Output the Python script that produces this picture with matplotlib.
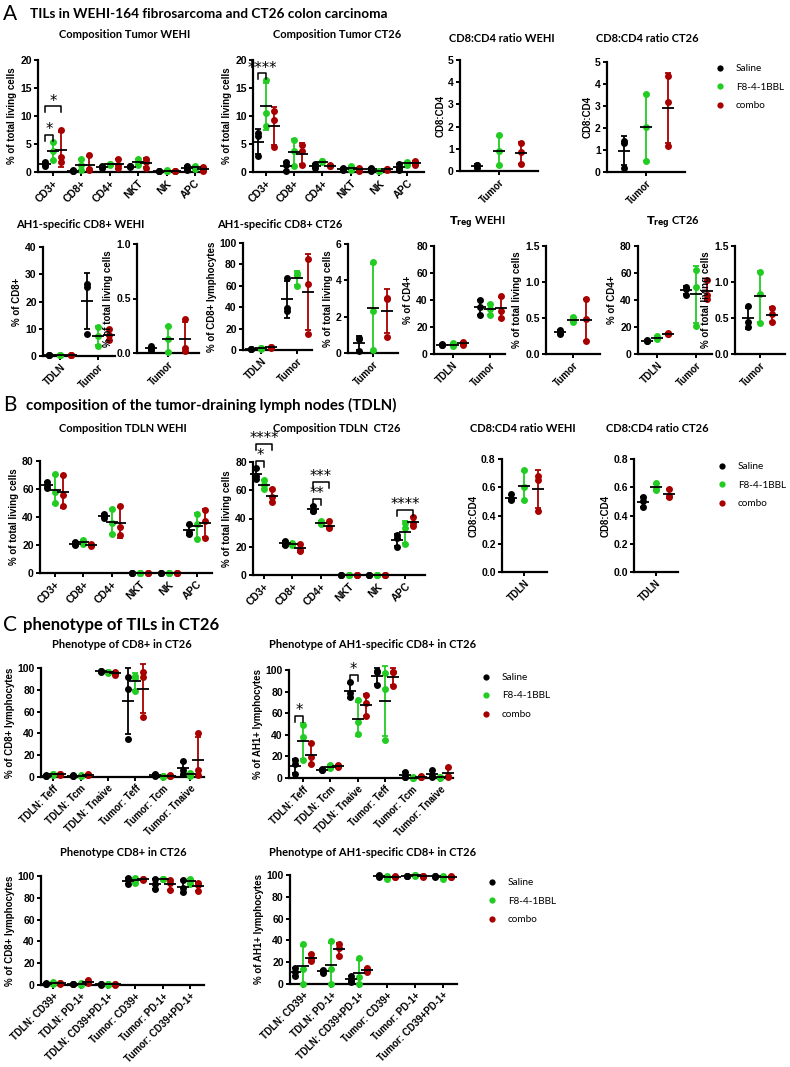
import numpy as np
import matplotlib
matplotlib.use("Agg")
import matplotlib.pyplot as plt
from matplotlib.lines import Line2D

W, H = 790, 1067
COLORS = ["#000000", "#22cc22", "#a80000"]
TREATMENTS = ["Saline", "F8-4-1BBL", "combo"]

# ---------------- DATA ----------------
comp_cats = ["CD3+", "CD8+", "CD4+", "NKT", "NK", "APC"]

# A: Composition Tumor WEHI
tw_saline = [[1.0, 1.4, 1.7], [0.2, 0.3, 0.2], [0.7, 0.9, 1.0], [0.9, 1.0, 1.0], [0.1, 0.1, 0.15], [0.4, 0.8, 1.0]]
tw_f8 = [[2.2, 3.8, 5.4], [0.3, 1.3, 2.3], [1.3, 1.4, 1.5], [1.3, 1.7, 2.3], [0.2, 0.2, 0.3], [0.6, 0.9, 1.0]]
tw_combo = [[1.7, 2.7, 7.5], [0.3, 0.6, 3.0], [0.7, 1.2, 2.4], [0.8, 1.8, 2.4], [0.1, 0.15, 0.2], [0.2, 0.5, 0.9]]
tw_sig = [(0, 0, 1, "*", 0), (0, 0, 2, "*", 1)]

# A: Composition Tumor CT26
tc_saline = [[2.8, 6.4, 6.9], [0.2, 1.2, 1.8], [0.8, 1.1, 1.4], [0.4, 0.6, 0.7], [0.2, 0.5, 0.7], [0.3, 0.8, 1.4]]
tc_f8 = [[8.2, 10.5, 16.4], [1.0, 3.7, 5.8], [1.7, 1.9, 2.0], [0.3, 0.6, 1.0], [0.1, 0.15, 0.2], [1.3, 1.6, 1.8]]
tc_combo = [[4.5, 9.3, 10.9], [1.2, 3.8, 4.9], [1.0, 1.1, 1.2], [0.2, 0.5, 0.7], [0.3, 0.5, 0.6], [1.2, 1.6, 2.0]]
tc_sig = [(0, 0, 1, "****", 0)]

# A: CD8:CD4 ratio
tumor_cat = ["Tumor"]
tdln_cat = ["TDLN"]
two_cats = ["TDLN", "Tumor"]
rw_saline = [[0.15, 0.25, 0.28]]
rw_f8 = [[0.25, 0.9, 1.6]]
rw_combo = [[0.32, 0.85, 1.28]]
rc_saline = [[0.2, 1.3, 1.4]]
rc_f8 = [[0.5, 2.05, 3.55]]
rc_combo = [[1.2, 3.2, 4.35]]

# A: AH1-specific CD8+
ah1w_pct_saline = [[0.2, 0.3, 0.4], [8.2, 25.5, 26.5]]
ah1w_pct_f8 = [[0.2, 0.3, 0.4], [3.8, 7.5, 10.8]]
ah1w_pct_combo = [[0.3, 0.4, 0.5], [5.8, 7.8, 10.0]]
ah1w_tot_saline = [[0.03, 0.04, 0.06]]
ah1w_tot_f8 = [[0.01, 0.13, 0.25]]
ah1w_tot_combo = [[0.02, 0.05, 0.31]]
ah1c_pct_saline = [[0.8, 1.0, 1.2], [36, 39, 67]]
ah1c_pct_f8 = [[1.0, 1.5, 2.0], [60, 70, 72]]
ah1c_pct_combo = [[2.0, 2.5, 3.0], [15, 62, 85]]
ah1c_tot_saline = [[0.1, 0.75, 0.8]]
ah1c_tot_f8 = [[0.15, 2.3, 5.0]]
ah1c_tot_combo = [[0.9, 2.95, 3.05]]

# A: Treg
tregw_pct_saline = [[6.8, 7.0, 7.2], [29, 35, 40]]
tregw_pct_f8 = [[6.0, 7.0, 8.0], [29, 33, 37]]
tregw_pct_combo = [[7.0, 8.0, 9.0], [27, 32, 43]]
tregw_tot_saline = [[0.28, 0.29, 0.34]]
tregw_tot_f8 = [[0.44, 0.48, 0.51]]
tregw_tot_combo = [[0.18, 0.48, 0.76]]
tregc_pct_saline = [[9.5, 10, 10.5], [44, 48, 50]]
tregc_pct_f8 = [[11, 12, 13], [21, 50, 62]]
tregc_pct_combo = [[14.5, 15, 15.5], [41, 44, 55]]
tregc_tot_saline = [[0.38, 0.44, 0.66]]
tregc_tot_f8 = [[0.43, 0.83, 1.14]]
tregc_tot_combo = [[0.44, 0.56, 0.64]]

# B: Composition TDLN
bw_saline = [[61, 63, 65], [20, 21, 22], [39, 41, 42], [0.3, 0.3, 0.3], [0.3, 0.3, 0.3], [28, 29, 35]]
bw_f8 = [[50, 58, 70.5], [21, 22, 23.5], [28, 36, 46], [0.3, 0.3, 0.3], [0.3, 0.3, 0.3], [24, 35, 42]]
bw_combo = [[47.5, 56, 70], [19, 20, 21], [27, 33, 48], [0.3, 0.3, 0.3], [0.3, 0.3, 0.3], [25, 37, 45]]
bc_saline = [[68, 70, 76], [21, 22, 24], [45, 45.5, 49], [0.3, 0.3, 0.3], [0.3, 0.3, 0.3], [20, 26, 28]]
bc_f8 = [[61, 64, 67], [21, 22, 23], [36, 37, 38.5], [0.3, 0.3, 0.3], [0.3, 0.3, 0.3], [22, 33, 36.5]]
bc_combo = [[52, 55, 61], [17, 18, 22], [33, 34, 38], [0.3, 0.3, 0.3], [0.3, 0.3, 0.3], [35, 37, 41]]
bc_sig = [(0, 0, 1, "*", 0), (0, 0, 2, "****", 1), (2, 0, 1, "**", 0), (2, 0, 2, "***", 1), (5, 0, 2, "****", 0)]

# B: CD8:CD4 ratio TDLN
rbw_saline = [[0.51, 0.52, 0.55]]
rbw_f8 = [[0.51, 0.6, 0.72]]
rbw_combo = [[0.43, 0.65, 0.68]]
rbc_saline = [[0.46, 0.5, 0.53]]
rbc_f8 = [[0.58, 0.59, 0.63]]
rbc_combo = [[0.53, 0.54, 0.59]]

# C: phenotype
phen_cats = ["TDLN: Teff", "TDLN: Tcm", "TDLN: Tnaive", "Tumor: Teff", "Tumor: Tcm", "Tumor: Tnaive"]
pc_saline = [[1, 1.2, 1.4], [1, 1.2, 1.5], [96.5, 97, 97.5], [35, 81, 92], [0.5, 1.5, 3], [3, 6, 14.5]]
pc_f8 = [[2, 2.5, 3], [1, 1.2, 1.4], [95.5, 96, 96.5], [79, 91, 93], [0.2, 0.5, 0.8], [1, 2.5, 4]]
pc_combo = [[2, 2.5, 3], [1.5, 2, 2.5], [94, 95, 96], [55, 92, 96.5], [0.5, 1, 1.5], [2, 6, 40]]
pa_saline = [[4, 13, 17], [7, 7.5, 8], [75, 79, 89], [86, 98.5, 99], [0.5, 1, 6], [1, 2, 7]]
pa_f8 = [[16.5, 38, 49], [9, 10, 12], [41, 52, 72], [35, 82, 97], [0.2, 0.4, 0.6], [0.2, 0.5, 1]]
pa_combo = [[13, 19, 32], [10, 11, 12], [57, 69, 77], [85, 98, 98.5], [0.5, 1, 2], [1, 2, 10]]
pa_sig = [(0, 0, 1, "*", 0), (2, 0, 1, "*", 0)]

cd39_cats = ["TDLN: CD39+", "TDLN: PD-1+", "TDLN: CD39+PD-1+", "Tumor: CD39+", "Tumor: PD-1+", "Tumor: CD39+PD-1+"]
qc_saline = [[0.5, 1, 1.5], [0.5, 1, 1.2], [0.3, 0.5, 0.7], [93, 96, 98.5], [88, 93, 97], [85, 89, 96.5]]
qc_f8 = [[0.5, 2, 3], [0.2, 1, 2], [0.3, 0.5, 0.7], [94, 96, 98.5], [97, 97.2, 97.5], [93, 95, 97]]
qc_combo = [[1, 1.5, 2], [1.5, 3, 4.5], [0.3, 0.6, 0.8], [96.5, 97, 97.5], [87, 94, 96], [86, 92, 94]]
qa_saline = [[7, 11, 14.5], [10.5, 11.5, 13], [2, 4, 7.5], [98.5, 99.3, 100], [99, 99.2, 99.4], [98.5, 99, 99.5]]
qa_f8 = [[0.3, 13.5, 36.5], [0.3, 14, 39], [0.3, 6.5, 23.5], [96.5, 98, 99.5], [99.5, 99.7, 100], [96.5, 98, 99.5]]
qa_combo = [[21, 23, 27.5], [25.5, 33, 36.5], [11, 13, 15], [98, 98.5, 99], [98.5, 99, 99.5], [98, 98.5, 99]]

# ---------------- PLOTTING ----------------
TICKFONT = "Liberation Sans"
TITLEFONT = "Lato"

fig = plt.figure(figsize=(W / 100, H / 100), dpi=100)


def rect(x0, x1, yt, yb):
    return [x0 / W, 1 - yb / H, (x1 - x0) / W, (yb - yt) / H]


def upper(vals):
    m = np.mean(vals)
    s = np.std(vals, ddof=1)
    return max(max(vals), m + s)


def dotplot(r, cats, series, ymax, yticks, ylabel, xlim, off=0.28, sig=(), xfs=7):
    ax = fig.add_axes(r)
    for t, (vals_by_cat, c) in enumerate(zip(series, COLORS)):
        for i, vals in enumerate(vals_by_cat):
            x = i + (t - 1) * off
            m = np.mean(vals)
            s = np.std(vals, ddof=1)
            ax.errorbar([x], [m], yerr=[[min(s, m)], [s]], fmt="none", ecolor=c,
                        elinewidth=1.3, capsize=2.3, capthick=1.3, clip_on=False, zorder=2)
            ax.plot([x] * len(vals), vals, "o", color=c, ms=5, mec="none",
                    clip_on=False, zorder=3)
            ax.plot([x], [m], marker="_", ms=8.5, mew=1.3, color="k", clip_on=False, zorder=4)
    for (i, ta, tb, txt, level) in sig:
        top = max(upper(series[t][i]) for t in range(ta, tb + 1)) + 0.06 * ymax + level * 0.15 * ymax
        xa = i + (ta - 1) * off
        xb = i + (tb - 1) * off
        leg = 0.05 * ymax
        ax.plot([xa, xa, xb, xb], [top - leg, top, top, top - leg], color="k", lw=1.1,
                clip_on=False, zorder=5)
        ax.annotate(txt, ((xa + xb) / 2, top), xytext=(0, -1.5), textcoords="offset points",
                    ha="center", va="bottom", fontsize=10.5, family="DejaVu Sans",
                    annotation_clip=False)
    ax.set_xlim(*xlim)
    ax.set_ylim(0, ymax)
    ax.set_yticks(yticks)
    ax.set_xticks(range(len(cats)))
    ax.set_xticklabels(cats, rotation=45, ha="right", rotation_mode="anchor",
                       fontsize=xfs, fontweight="bold", family=TICKFONT)
    for lab in ax.get_yticklabels():
        lab.set_fontsize(7.5)
        lab.set_fontweight("bold")
        lab.set_family(TICKFONT)
    ax.set_ylabel(ylabel, fontsize=7, fontweight="bold", family=TICKFONT, labelpad=2)
    for sp in ("top", "right"):
        ax.spines[sp].set_visible(False)
    for sp in ("left", "bottom"):
        ax.spines[sp].set_linewidth(1.6)
    ax.tick_params(width=1.4, length=3, pad=1.5)
    ax.patch.set_alpha(0)
    return ax


def title(x, y, txt, size=8):
    fig.text(x / W, 1 - y / H, txt, ha="center", va="center", fontsize=size,
             fontweight="bold", family=TITLEFONT)


def header(y, letter, txt, size=10, tx=30):
    fig.text(3 / W, 1 - y / H, letter, ha="left", va="center", fontsize=15, family="Lato")
    fig.text(tx / W, 1 - y / H, txt, ha="left", va="center", fontsize=size,
             fontweight="bold", family=TITLEFONT)


def legend(x, y):
    handles = [Line2D([], [], ls="none", marker="o", ms=4.5, mec="none", color=c) for c in COLORS]
    fig.legend(handles, TREATMENTS, loc="upper left", bbox_to_anchor=(x / W, 1 - y / H),
               frameon=False, handletextpad=0.6, labelspacing=0.95,
               borderaxespad=0, borderpad=0, prop={"family": "Lato", "size": 7.2})


# Section A
header(14, "A", "TILs in WEHI-164 fibrosarcoma and CT26 colon carcinoma", size=9.8)
title(125, 34, "Composition Tumor WEHI")
title(337, 34, "Composition Tumor CT26")
title(502, 38, "CD8:CD4 ratio WEHI")
title(647, 38, "CD8:CD4 ratio CT26")
dotplot(rect(38, 205, 60, 172), comp_cats, [tw_saline, tw_f8, tw_combo], 20, [0, 5, 10, 15, 20],
        "% of total living cells", (-0.52, 5.35), sig=tw_sig, xfs=7.5)
dotplot(rect(253, 424, 60, 172), comp_cats, [tc_saline, tc_f8, tc_combo], 20, [0, 5, 10, 15, 20],
        "% of total living cells", (-0.46, 5.6), sig=tc_sig, xfs=7.5)
dotplot(rect(460, 538, 60, 171), tumor_cat, [rw_saline, rw_f8, rw_combo], 5, [0, 1, 2, 3, 4, 5],
        "CD8:CD4", (-0.5, 0.5))
dotplot(rect(607, 685, 62, 172), tumor_cat, [rc_saline, rc_f8, rc_combo], 5, [0, 1, 2, 3, 4, 5],
        "CD8:CD4", (-0.5, 0.5))
legend(710, 64)

title(80, 225, "AH1-specific CD8+ WEHI")
title(280, 225, "AH1-specific CD8+ CT26")
title(477, 223, r"$\mathbf{T_{reg}}$ WEHI")
title(673, 223, r"$\mathbf{T_{reg}}$ CT26")
dotplot(rect(43, 115, 247, 356), two_cats, [ah1w_pct_saline, ah1w_pct_f8, ah1w_pct_combo], 40,
        [0, 10, 20, 30, 40], "% of CD8+", (-0.45, 1.45))
dotplot(rect(137, 199, 244, 353), tumor_cat, [ah1w_tot_saline, ah1w_tot_f8, ah1w_tot_combo], 1.0,
        [0, 0.5, 1.0], "% of total living cells", (-0.5, 0.5))
dotplot(rect(243, 312, 243, 350), two_cats, [ah1c_pct_saline, ah1c_pct_f8, ah1c_pct_combo], 100,
        [0, 20, 40, 60, 80, 100], "% of CD8+ lymphocytes", (-0.5, 1.4))
dotplot(rect(348, 398, 244, 353), tumor_cat, [ah1c_tot_saline, ah1c_tot_f8, ah1c_tot_combo], 6,
        [0, 2, 4, 6], "% of total living cells", (-0.5, 0.5))
dotplot(rect(434, 505, 246, 354), two_cats, [tregw_pct_saline, tregw_pct_f8, tregw_pct_combo], 80,
        [0, 20, 40, 60, 80], "% of CD4+", (-0.5, 1.4))
dotplot(rect(546, 600, 246, 354), tumor_cat, [tregw_tot_saline, tregw_tot_f8, tregw_tot_combo], 1.5,
        [0, 0.5, 1.0, 1.5], "% of total living cells", (-0.5, 0.5), off=0.24)
dotplot(rect(638, 712, 246, 354), two_cats, [tregc_pct_saline, tregc_pct_f8, tregc_pct_combo], 80,
        [0, 20, 40, 60, 80], "% of CD4+", (-0.5, 1.4))
dotplot(rect(735, 785, 246, 354), tumor_cat, [tregc_tot_saline, tregc_tot_f8, tregc_tot_combo], 1.5,
        [0, 0.5, 1.0, 1.5], "% of total living cells", (-0.5, 0.5), off=0.24)

# Section B
header(405, "B", "composition of the tumor-draining lymph nodes (TDLN)", size=10.8, tx=26)
title(123, 428, "Composition TDLN WEHI")
title(337, 428, "Composition TDLN  CT26")
title(523, 428, "CD8:CD4 ratio WEHI")
title(657, 428, "CD8:CD4 ratio CT26")
dotplot(rect(40, 212, 461, 573), comp_cats, [bw_saline, bw_f8, bw_combo], 80, [0, 20, 40, 60, 80],
        "% of total living cells", (-0.53, 5.53), xfs=7.5)
dotplot(rect(253, 425, 462, 575), comp_cats, [bc_saline, bc_f8, bc_combo], 80, [0, 20, 40, 60, 80],
        "% of total living cells", (-0.4, 5.7), sig=bc_sig, xfs=7.5)
dotplot(rect(502, 547, 459, 572), tdln_cat, [rbw_saline, rbw_f8, rbw_combo], 0.8,
        [0, 0.2, 0.4, 0.6, 0.8], "CD8:CD4", (-0.5, 0.5), off=0.3)
dotplot(rect(634, 678, 459, 572), tdln_cat, [rbc_saline, rbc_f8, rbc_combo], 0.8,
        [0, 0.2, 0.4, 0.6, 0.8], "CD8:CD4", (-0.5, 0.5), off=0.3)
legend(712, 462)

# Section C
header(625, "C", "phenotype of TILs in CT26", size=12, tx=23)
title(122, 645, "Phenotype of CD8+ in CT26")
title(373, 645, "Phenotype of AH1-specific CD8+ in CT26")
dotplot(rect(41, 204, 668, 777), phen_cats, [pc_saline, pc_f8, pc_combo], 100,
        [0, 20, 40, 60, 80, 100], "% of CD8+ lymphocytes", (-0.44, 5.5), off=0.27)
dotplot(rect(289, 453, 670, 778), phen_cats, [pa_saline, pa_f8, pa_combo], 100,
        [0, 20, 40, 60, 80, 100], "% of AH1+ lymphocytes", (-0.5, 5.47), off=0.29, sig=pa_sig)
legend(476, 673)

title(123, 852, "Phenotype CD8+ in CT26")
title(373, 852, "Phenotype of AH1-specific CD8+ in CT26")
dotplot(rect(41, 204, 876, 985), cd39_cats, [qc_saline, qc_f8, qc_combo], 100,
        [0, 20, 40, 60, 80, 100], "% of CD8+ lymphocytes", (-0.44, 5.5), off=0.27)
dotplot(rect(290, 457, 875, 984), cd39_cats, [qa_saline, qa_f8, qa_combo], 100,
        [0, 20, 40, 60, 80, 100], "% of AH1+ lymphocytes", (-0.47, 5.5), off=0.29)
legend(482, 878)

fig.savefig("out.png", dpi=100)
